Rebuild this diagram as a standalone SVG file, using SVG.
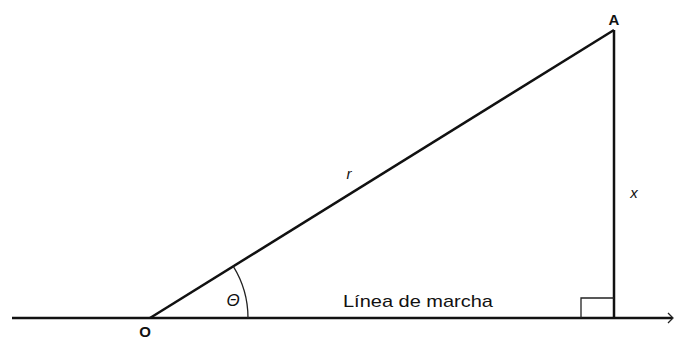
<svg xmlns="http://www.w3.org/2000/svg" width="674" height="339" viewBox="0 0 674 339">
<style>
.main{stroke:#111;stroke-width:2.5;fill:none;stroke-linecap:butt}
.thin{stroke:#222;stroke-width:1.3;fill:none}
.lbl{font-family:"Liberation Sans",Arial,sans-serif;fill:#111}
.b{font-weight:bold;font-size:15px}
.i{font-style:italic;font-size:15px}
</style>
<rect width="674" height="339" fill="#fff"/>
<g id="connectors">
<line class="main" x1="12" y1="318" x2="672" y2="318"/>
<polyline class="thin" points="668,313 673,318 668,323"/>
<line class="main" x1="150" y1="318" x2="614" y2="30"/>
<line class="main" x1="614" y1="30" x2="614" y2="318"/>
<path class="thin" d="M233.3,266.4 A98,98 0 0 1 248,318"/>
<polyline class="thin" points="581,318 581,298 614,298"/>
</g>
<g id="O"><text class="lbl b" x="145" y="337" text-anchor="middle" font-size="14">O</text></g>
<g id="A"><text class="lbl b" x="614" y="25" text-anchor="middle">A</text></g>
<g id="r"><text class="lbl i" x="349" y="179" text-anchor="middle">r</text></g>
<g id="x"><text class="lbl i" x="634" y="198" text-anchor="middle">x</text></g>
<g id="theta"><text class="lbl i" x="233" y="306" text-anchor="middle" style="font-size:17px">Θ</text></g>
<g id="linea"><text class="lbl" x="343" y="307" font-size="17" textLength="150" lengthAdjust="spacingAndGlyphs">Línea de marcha</text></g>
</svg>
